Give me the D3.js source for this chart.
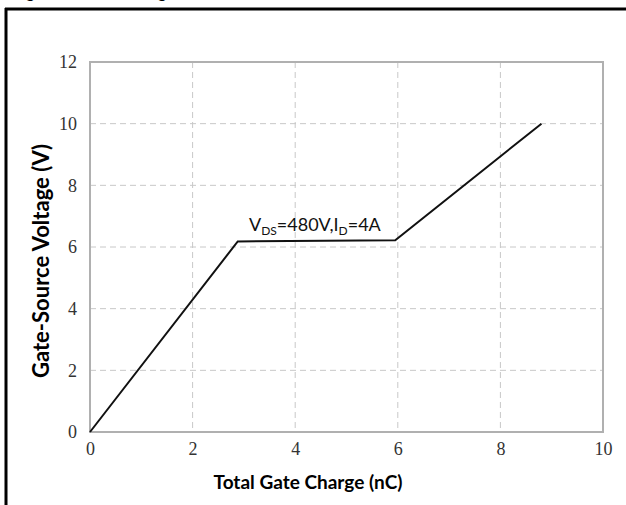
<!DOCTYPE html>
<html>
<head>
<meta charset="utf-8">
<style>
  body { margin: 0; background: #fff; }
  svg { display: block; }
</style>
</head>
<body>
<svg id="chart"></svg>
<script src="https://d3js.org/d3.v7.min.js"></script>
<script>
  // gate charge curve (nC, V)
  const charge = [0, 2.88, 5.95, 8.8];
  const voltage = [0, 6.18, 6.22, 10];
  const xTicks = [0, 2, 4, 6, 8, 10];
  const yTicks = [0, 2, 4, 6, 8, 10, 12];

  const width = 626, height = 505;
  const m = { left: 90, right: 23, top: 62, bottom: 73 };

  const svg = d3.select("#chart").attr("width", width).attr("height", height);

  // frame of the figure box (title mostly cut off above)
  svg.append("text")
    .attr("x", 12).attr("y", -2)
    .attr("font-family", "Lato, sans-serif").attr("font-weight", "bold")
    .attr("font-size", 17).attr("fill", "#000")
    .text("Figure 8. Gate Charge");
  svg.append("line").attr("x1", 5).attr("x2", width).attr("y1", 9).attr("y2", 9)
    .attr("stroke", "#000").attr("stroke-width", 3);
  svg.append("line").attr("x1", 6).attr("x2", 6).attr("y1", 8).attr("y2", height)
    .attr("stroke", "#000").attr("stroke-width", 3);

  const x = d3.scaleLinear().domain([0, 10]).range([m.left, width - m.right]);
  const y = d3.scaleLinear().domain([0, 12]).range([height - m.bottom, m.top]);

  // grid
  const grid = svg.append("g").attr("stroke", "#c8c8c8").attr("stroke-dasharray", "6,4");
  grid.selectAll(".gx").data(xTicks.slice(1, -1)).join("line")
    .attr("x1", d => x(d)).attr("x2", d => x(d))
    .attr("y1", y(12)).attr("y2", y(0));
  grid.selectAll(".gy").data(yTicks.slice(1, -1)).join("line")
    .attr("x1", x(0)).attr("x2", x(10))
    .attr("y1", d => y(d)).attr("y2", d => y(d));

  // plot border
  svg.append("rect")
    .attr("x", x(0)).attr("y", y(12))
    .attr("width", x(10) - x(0)).attr("height", y(0) - y(12))
    .attr("fill", "none").attr("stroke", "#b0b0b0").attr("stroke-width", 2);

  // axes
  const tickFont = "'Liberation Serif', 'DejaVu Serif', serif";
  const xAxis = svg.append("g")
    .attr("transform", `translate(0,${y(0)})`)
    .call(d3.axisBottom(x).tickValues(xTicks).tickSize(0).tickPadding(10));
  const yAxis = svg.append("g")
    .attr("transform", `translate(${x(0)},0)`)
    .call(d3.axisLeft(y).tickValues(yTicks).tickSize(0).tickPadding(13));
  [xAxis, yAxis].forEach(a => {
    a.select(".domain").remove();
    a.selectAll("text").attr("font-family", tickFont).attr("font-size", 18).attr("fill", "#333");
  });

  // curve
  const pts = charge.map((c, i) => [c, voltage[i]]);
  svg.append("path")
    .datum(pts)
    .attr("fill", "none").attr("stroke", "#111").attr("stroke-width", 2)
    .attr("d", d3.line().x(d => x(d[0])).y(d => y(d[1])));

  // annotation
  const ann = svg.append("text")
    .attr("x", x(3.1)).attr("y", y(6.2) - 10)
    .attr("font-family", "Lato, 'Open Sans', sans-serif").attr("font-size", 18)
    .attr("fill", "#111");
  ann.append("tspan").text("V");
  ann.append("tspan").attr("font-size", 12).attr("dy", 4).text("DS");
  ann.append("tspan").attr("dy", -4).text("=480V,I");
  ann.append("tspan").attr("font-size", 12).attr("dy", 4).text("D");
  ann.append("tspan").attr("dy", -4).text("=4A");

  // axis titles
  svg.append("text")
    .attr("x", 308).attr("y", 489)
    .attr("text-anchor", "middle")
    .attr("font-family", "Lato, sans-serif").attr("font-weight", "bold").attr("font-size", 19)
    .text("Total Gate Charge (nC)");
  svg.append("text")
    .attr("transform", `translate(49,261) rotate(-90)`)
    .attr("text-anchor", "middle")
    .attr("font-family", "Lato, sans-serif").attr("font-weight", "bold").attr("font-size", 22)
    .text("Gate-Source Voltage (V)");
</script>
</body>
</html>
